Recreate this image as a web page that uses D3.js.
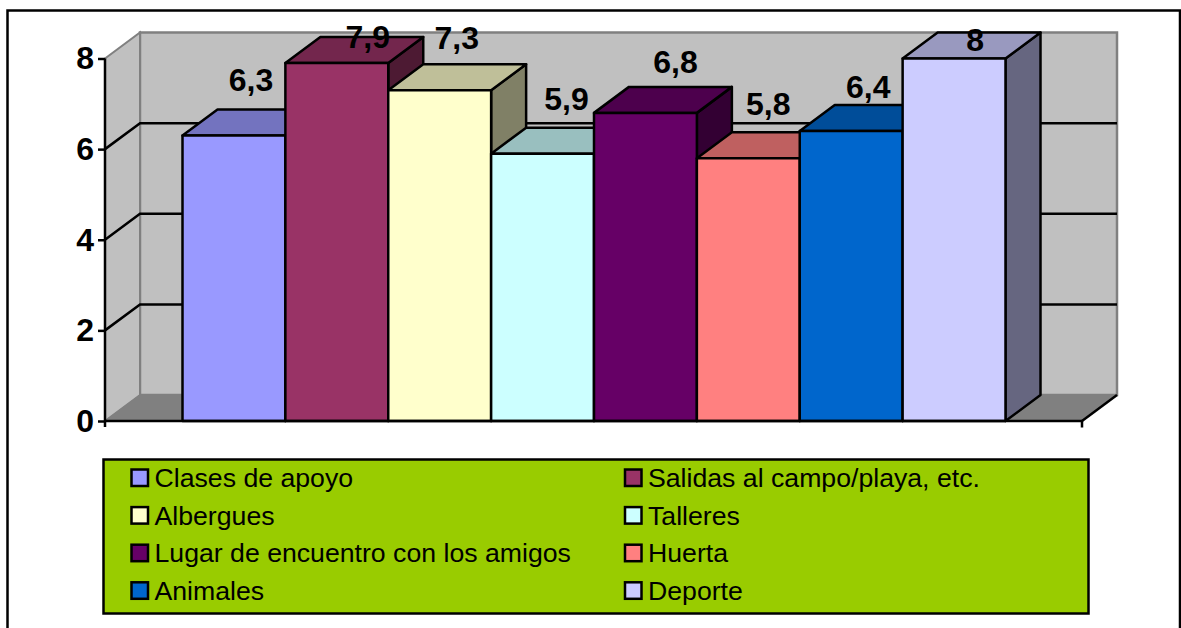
<!DOCTYPE html>
<html>
<head>
<meta charset="utf-8">
<script src="https://cdn.jsdelivr.net/npm/d3@7"></script>
<style>
  html, body { margin: 0; padding: 0; background: #fff; overflow: hidden; }
  text { font-family: "Liberation Sans", Arial, sans-serif; fill: #000; }
</style>
</head>
<body>
<div id="grafico"></div>
<script>
const categorias = [
    "Clases de apoyo", "Salidas al campo/playa, etc.",
    "Albergues", "Talleres",
    "Lugar de encuentro con los amigos", "Huerta",
    "Animales", "Deporte"
];
const valores = [6.3, 7.9, 7.3, 5.9, 6.8, 5.8, 6.4, 8];
const colores = ["#9999FF", "#993366", "#FFFFCC", "#CCFFFF", "#660066", "#FF8080", "#0066CC", "#CCCCFF"];
const ticksY = [0, 2, 4, 6, 8];

// Ajuste a mano de cada etiqueta (en el original no van centradas)
const ajusteX = [17, 31, 17, 24, 30, 20, 17, 21];
const ajusteY = [-45, -15, -41, -44, -40, -43, -33, -8];

crearGrafico();

function crearGrafico() {
    const svg = d3.select("#grafico")
        .append("svg")
        .attr("width", 1181)
        .attr("height", 628)
        .style("display", "block");

    // Profundidad de la perspectiva
    const dx = 35, dy = -26;
    const x0 = 105, x1 = 1082;

    const x = d3.scaleBand()
        .domain(categorias)
        .range([182.5, 1005.5])
        .padding(0);

    const y = d3.scaleLinear()
        .domain([0, 8])
        .range([421, 58.5]);

    const poly = pts => pts.map(p => p.join(",")).join(" ");

    // Marco exterior (sin borde inferior)
    svg.append("path")
        .attr("d", "M7.5,628V10.5H1180V628")
        .attr("fill", "none")
        .attr("stroke", "#000")
        .attr("stroke-width", 2.5);

    // Paredes y suelo
    svg.append("polygon")
        .attr("points", poly([[x0 + dx, y(8) + dy], [x1 + dx, y(8) + dy], [x1 + dx, y(0) + dy], [x0 + dx, y(0) + dy]]))
        .attr("fill", "#C0C0C0")
        .attr("stroke", "#808080")
        .attr("stroke-width", 2.5);

    svg.append("polygon")
        .attr("points", poly([[x0, y(8)], [x0 + dx, y(8) + dy], [x0 + dx, y(0) + dy], [x0, y(0)]]))
        .attr("fill", "#C0C0C0")
        .attr("stroke", "#808080")
        .attr("stroke-width", 2);

    svg.append("polygon")
        .attr("points", poly([[x0, y(0)], [x0 + dx, y(0) + dy], [x1 + dx, y(0) + dy], [x1, y(0)]]))
        .attr("fill", "#808080")
        .attr("stroke", "#808080")
        .attr("stroke-width", 1);

    // Lineas de division
    const lineasY = ticksY.filter(t => t > 0 && t < 8);
    svg.selectAll(".grid")
        .data(lineasY)
        .enter().append("path")
        .attr("class", "grid")
        .attr("d", t => `M${x0},${y(t)}L${x0 + dx},${y(t) + dy}H${x1 + dx}`)
        .attr("fill", "none")
        .attr("stroke", "#000")
        .attr("stroke-width", 2.5);

    // Borde delantero derecho del suelo
    svg.append("line")
        .attr("x1", x1).attr("y1", y(0))
        .attr("x2", x1 + dx).attr("y2", y(0) + dy)
        .attr("stroke", "#000")
        .attr("stroke-width", 2.5);

    // Barras 3D
    const barras = svg.selectAll(".bar")
        .data(categorias)
        .enter().append("g")
        .attr("class", "bar")
        .attr("stroke", "#000")
        .attr("stroke-width", 2.5)
        .attr("stroke-linejoin", "round");

    barras.append("polygon")
        .attr("points", (d, i) => {
            const r = x(d) + x.bandwidth();
            return poly([[r, y(valores[i])], [r + dx, y(valores[i]) + dy], [r + dx, y(0) + dy], [r, y(0)]]);
        })
        .attr("fill", (d, i) => sombra(colores[i], 0.5));

    barras.append("polygon")
        .attr("points", (d, i) => {
            const l = x(d), r = l + x.bandwidth(), t = y(valores[i]);
            return poly([[l, t], [l + dx, t + dy], [r + dx, t + dy], [r, t]]);
        })
        .attr("fill", (d, i) => sombra(colores[i], 0.75));

    barras.append("rect")
        .attr("x", d => x(d))
        .attr("y", (d, i) => y(valores[i]))
        .attr("width", x.bandwidth())
        .attr("height", (d, i) => y(0) - y(valores[i]))
        .attr("fill", (d, i) => colores[i]);

    // Eje Y
    const ejeY = svg.append("g")
        .attr("transform", `translate(${x0}, 0)`)
        .call(d3.axisLeft(y).tickValues(ticksY).tickFormat(d3.format("d")).tickSize(7).tickPadding(4));
    ejeY.select(".domain").attr("stroke", "#000").attr("stroke-width", 2.5).attr("d", `M0,${y(8)}V${y(0) + 6}`);
    ejeY.selectAll(".tick line").attr("stroke", "#000").attr("stroke-width", 2.5);
    ejeY.selectAll("text")
        .attr("fill", "#000")
        .style("font-family", '"Liberation Sans", Arial, sans-serif')
        .style("font-size", "32px")
        .style("font-weight", "bold");

    // Eje X
    svg.append("path")
        .attr("d", `M${x0},${y(0)}H${x1}V${y(0) + 6.5}`)
        .attr("fill", "none")
        .attr("stroke", "#000")
        .attr("stroke-width", 2.5);

    // Etiquetas de valor
    svg.selectAll(".etiqueta")
        .data(categorias)
        .enter().append("text")
        .attr("class", "etiqueta")
        .attr("x", (d, i) => x(d) + x.bandwidth() / 2 + ajusteX[i])
        .attr("y", (d, i) => y(valores[i]) + ajusteY[i])
        .attr("text-anchor", "middle")
        .style("font-size", "32px")
        .style("font-weight", "bold")
        .text((d, i) => String(valores[i]).replace(".", ","));

    // Leyenda
    svg.append("rect")
        .attr("x", 103.5).attr("y", 459.5)
        .attr("width", 985).attr("height", 154)
        .attr("fill", "#99CC00")
        .attr("stroke", "#000")
        .attr("stroke-width", 2.5);

    const filaLeyenda = i => 478 + Math.floor(i / 2) * 37.6;
    const columnaLeyenda = i => (i % 2 === 0 ? 131.5 : 625);

    const leyenda = svg.selectAll(".leyenda")
        .data(categorias)
        .enter().append("g")
        .attr("class", "leyenda")
        .attr("transform", (d, i) => `translate(${columnaLeyenda(i)}, ${filaLeyenda(i)})`);

    leyenda.append("rect")
        .attr("x", 0).attr("y", -8.5)
        .attr("width", 16.5).attr("height", 16.5)
        .attr("fill", (d, i) => colores[i])
        .attr("stroke", "#000")
        .attr("stroke-width", 2.5);

    leyenda.append("text")
        .attr("x", 23)
        .attr("y", 9)
        .style("font-size", "26.67px")
        .text(d => d);
}

// Oscurece el color para las caras laterales
function sombra(color, k) {
    const c = d3.rgb(color);
    return d3.rgb(c.r * k, c.g * k, c.b * k).formatHex();
}
</script>
</body>
</html>
